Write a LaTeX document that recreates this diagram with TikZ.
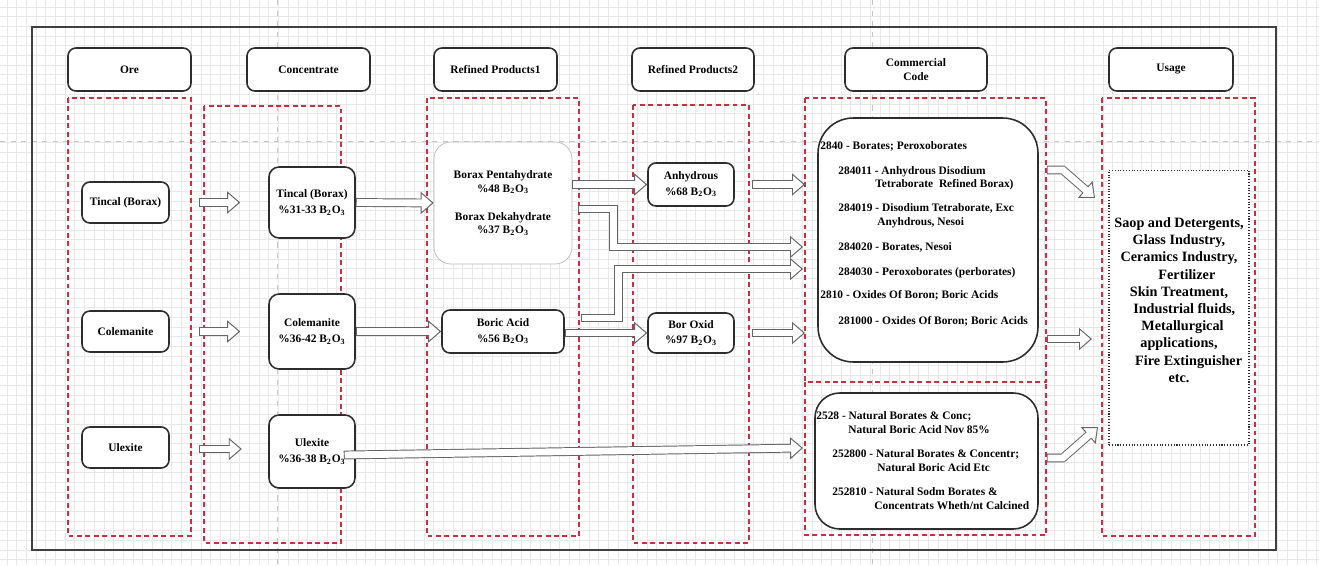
\documentclass[tikz,border=0pt]{standalone}
\usepackage{fontspec}
\setmainfont{Liberation Serif}
\usetikzlibrary{calc}
\usetikzlibrary{positioning}
\usetikzlibrary{arrows.meta}

\definecolor{lanered}{RGB}{205,45,65}
\definecolor{flowgray}{RGB}{100,100,100}
\definecolor{boxline}{RGB}{45,45,45}

\tikzset{
  gridline/.style={draw=gray!18, line width=0.3pt},
  guide/.style={draw=gray!45, line width=0.4pt, dashed},
  frame/.style={draw=gray!50!black, line width=0.7pt},
  lane/.style={draw=lanered, line width=0.75pt, dash pattern=on 2.8pt off 2pt},
  head/.style={draw=boxline, line width=0.9pt, fill=white, rounded corners=4.5pt, inner sep=0pt,
    minimum height=0.86cm, align=center, font=\bfseries\fontsize{6.5}{7.9}\selectfont},
  item/.style={draw=boxline, line width=0.9pt, fill=white, rounded corners=4.5pt, inner sep=0pt,
    align=center, font=\bfseries\fontsize{6.5}{8.6}\selectfont},
  conc/.style={item, rounded corners=5.7pt, minimum width=1.72cm,
    font=\bfseries\fontsize{6.5}{9.6}\selectfont},
  codeline/.style={anchor=base west, inner sep=0pt, font=\bfseries\fontsize{6.5}{7.9}\selectfont},
  flowout/.style={draw=flowgray, line width=5pt, shorten >=6.4pt},
  flowtip/.style={draw=white, line width=0.3pt, shorten <=0.6pt,
    -{Triangle[length=7.4pt, width=12.6pt, color=flowgray, fill=white, line width=0.55pt]}},
  flowin/.style={draw=white, line width=3.9pt, shorten >=6pt, shorten <=0.55pt}
}

% hollow block arrow along a path
\newcommand{\hollowflow}[1]{%
  \draw[flowout] #1;
  \draw[flowtip] #1;
  \draw[flowin] #1;}

\begin{document}
\begin{tikzpicture}[x=0.02cm, y=-0.02cm]
\useasboundingbox (0,0) rectangle (1319,565);

% background grid
\foreach \gx in {6.8,16.5,...,1319} \draw[gridline] (\gx,0) -- (\gx,565);
\foreach \gy in {6.8,16.5,...,565} \draw[gridline] (0,\gy) -- (1319,\gy);
\draw[guide] (277,0) -- (277,565);
\draw[guide] (872,0) -- (872,565);
\draw[guide] (0,141) -- (1319,141);

\draw[frame] (32,27) rectangle (1276,550);

% lanes
\draw[lane] (68,98) rectangle (191,536);
\draw[lane] (204,106) rectangle (341,543);
\draw[lane] (427,98) rectangle (579,536);
\draw[lane] (633,105) rectangle (749,543);
\draw[lane] (805,98) rectangle (1046,382);
\draw[lane] (805,382) -- (805,535) -- (1046,535) -- (1046,382);
\draw[lane] (1102,98) rectangle (1255,536);

% column heads
\node[head, minimum width=2.46cm] (hOre) at (129.5,69.5) {Ore};
\node[head, minimum width=2.46cm] (hConc) at (308.5,69.5) {Concentrate};
\node[head, minimum width=2.46cm] (hRef1) at (495.5,69.5) {Refined Products1};
\node[head, minimum width=2.44cm] (hRef2) at (693,69.5) {Refined Products2};
\node[head, minimum width=2.84cm] (hCode) at (916,69.5) {Commercial\\Code};
\node[head, minimum width=2.48cm] (hUse) at (1171,69.5) {Usage};

% ores
\node[item, minimum width=1.74cm, minimum height=0.82cm] (tO) at (125.5,202.5) {Tincal (Borax)};
\node[item, minimum width=1.74cm, minimum height=0.82cm] (cO) at (125.5,331.5) {Colemanite};
\node[item, minimum width=1.74cm, minimum height=0.82cm] (uO) at (125.5,447.5) {Ulexite};

% concentrates
\node[conc, minimum height=1.42cm] (tC) at (312,202.5) {Tincal (Borax)\\\%31-33 B\textsubscript{2}O\textsubscript{3}};
\node[conc, minimum height=1.5cm] (cC) at (312,331.5) {Colemanite\\\%36-42 B\textsubscript{2}O\textsubscript{3}};
\node[conc, minimum height=1.46cm] (uC) at (312,451.5) {Ulexite\\\%36-38 B\textsubscript{2}O\textsubscript{3}};

% refined products
\node[item, draw=gray!55, thin, rounded corners=9.6pt, minimum width=2.76cm, minimum height=2.44cm,
  font=\bfseries\fontsize{6.5}{7.9}\selectfont] (borax) at (503,203)
  {Borax Pentahydrate\\\%48 B\textsubscript{2}O\textsubscript{3}\\[8pt]Borax Dekahydrate\\\%37 B\textsubscript{2}O\textsubscript{3}};
\node[item, minimum width=2.44cm, minimum height=0.86cm] (boric) at (503,331.5) {Boric Acid\\\%56 B\textsubscript{2}O\textsubscript{3}};
\node[item, minimum width=1.72cm, minimum height=0.86cm] (anhyd) at (691,184.5) {Anhydrous\\\%68 B\textsubscript{2}O\textsubscript{3}};
\node[item, minimum width=1.72cm, minimum height=0.8cm] (boxid) at (691,333) {Bor Oxid\\\%97 B\textsubscript{2}O\textsubscript{3}};

% commercial codes
\node[item, rounded corners=20pt, minimum width=4.4cm, minimum height=4.88cm] (codeA) at (928,240) {};
\node[item, rounded corners=14pt, minimum width=4.46cm, minimum height=2.72cm] (codeB) at (926.5,461) {};

\node[codeline] (a1) at (820,149) {2840 - Borates; Peroxoborates};
\node[codeline] (a2) at (838,174) {284011 - Anhydrous Disodium};
\node[codeline] (a3) at (875,187) {Tetraborate\ \ Refined Borax)};
\node[codeline] (a4) at (838,211) {284019 - Disodium Tetraborate, Exc};
\node[codeline] (a5) at (877,225) {Anyhdrous, Nesoi};
\node[codeline] (a6) at (838,250) {284020 - Borates, Nesoi};
\node[codeline] (a7) at (838,275) {284030 - Peroxoborates (perborates)};
\node[codeline] (a8) at (820,298) {2810 - Oxides Of Boron; Boric Acids};
\node[codeline] (a9) at (838,324) {281000 - Oxides Of Boron; Boric Acids};

\node[codeline] (b1) at (816,419) {2528 - Natural Borates \& Conc;};
\node[codeline] (b2) at (848,433) {Natural Boric Acid Nov 85\%};
\node[codeline] (b3) at (832,457) {252800 - Natural Borates \& Concentr;};
\node[codeline] (b4) at (877,471) {Natural Boric Acid Etc};
\node[codeline] (b5) at (832,495) {252810 - Natural Sodm Borates \&};
\node[codeline] (b6) at (874,509) {Concentrats Wheth/nt Calcined};

% usage
\node[draw=boxline, line width=0.6pt, densely dotted, fill=white, minimum width=2.8cm, minimum height=5.5cm] (use) at (1179,307.5) {};
\node[align=center, inner sep=0pt, font=\bfseries\fontsize{8.1}{9.8}\selectfont] (useText) at (1179,300)
  {Saop and Detergents,\\Glass Industry,\hspace*{4pt}\\Ceramics Industry,\\\hspace*{9pt}Fertilizer\\Skin Treatment,\\\hspace*{6pt}Industrial fluids,\\\hspace*{4pt}Metallurgical\\applications,\\\hspace*{11pt}Fire Extinguisher\\etc.};

% lane entry points
\coordinate (inA) at (805,184.5);
\coordinate (inB) at (805,333);
\coordinate (in20) at (803,247);
\coordinate (in30) at (803,269);
\coordinate (inU) at (803,448);
\coordinate (useA) at (1095,198);
\coordinate (useB) at (1092,339);
\coordinate (useC) at (1098,427);

% flows
\hollowflow{($(tO.east)+(29,0)$) -- ($(tC.west)+(-28,0)$)}
\hollowflow{($(cO.east)+(29,0)$) -- ($(cC.west)+(-28,0)$)}
\hollowflow{($(uO.east)+(29,1.5)$) -- ($(uO.east)+(72,1.5)$)}
\hollowflow{(tC.east) -- (borax.west)}
\hollowflow{(cC.east) -- (boric.west)}
\hollowflow{($(uC.east)+(-12,3.5)$) -- (inU)}
\hollowflow{(borax.east |- anhyd.west) -- (anhyd.west)}
\hollowflow{($(borax.east)+(6,6)$) -- ++(35,0) |- (in20)}
\hollowflow{($(boric.east)+(16,-13.5)$) -- ++(38,0) |- (in30)}
\hollowflow{(boric.east |- boxid.west) -- (boxid.west)}
\hollowflow{($(anhyd.east)+(17,0)$) -- (inA)}
\hollowflow{($(boxid.east)+(17,0)$) -- (inB)}
\hollowflow{($(codeA.east)+(8,-70)$) -- ++(16,0) -- (useA)}
\hollowflow{($(codeA.east)+(8,99)$) -- (useB)}
\hollowflow{($(codeB.east)+(8,-3)$) -- ++(16,0) -- (useC)}
\end{tikzpicture}
\end{document}
